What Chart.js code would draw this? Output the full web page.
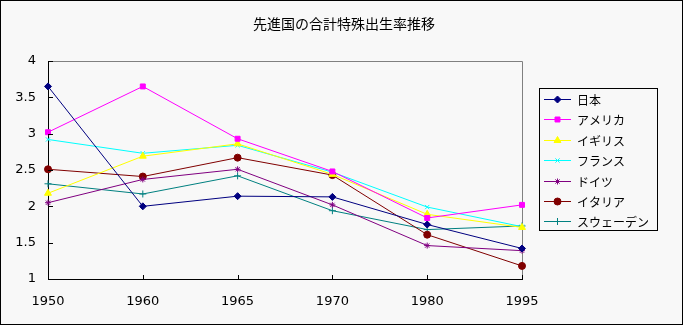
<!DOCTYPE html>
<html>
<head>
<meta charset="utf-8">
<title>先進国の合計特殊出生率推移</title>
<script src="https://cdn.jsdelivr.net/npm/chart.js@4.4.1/dist/chart.umd.min.js"></script>
<style>
  html, body { margin: 0; padding: 0; background: #f8f8f8; }
  #wrap { width: 683px; height: 325px; position: relative; }
</style>
</head>
<body>
<div id="wrap"><canvas id="chart" width="683" height="325"></canvas></div>
<script>
// 年次
var years = ['1950', '1960', '1965', '1970', '1980', '1995'];

// 国別の合計特殊出生率
var japan   = [3.65, 2.00, 2.14, 2.13, 1.75, 1.42];
var usa     = [3.02, 3.65, 2.93, 2.48, 1.84, 2.02];
var uk      = [2.18, 2.69, 2.86, 2.44, 1.89, 1.71];
var france  = [2.92, 2.73, 2.84, 2.47, 1.99, 1.72];
var germany = [2.05, 2.37, 2.51, 2.02, 1.46, 1.39];
var italy   = [2.51, 2.41, 2.67, 2.43, 1.61, 1.18];
var sweden  = [2.31, 2.17, 2.42, 1.94, 1.68, 1.73];

var yTicks = [1, 1.5, 2, 2.5, 3, 3.5, 4];

var TITLE = '先進国の合計特殊出生率推移';
var jpFont = '"Noto Sans CJK JP", "DejaVu Sans", sans-serif';
var numFont = '"DejaVu Sans", sans-serif';

function line(label, data, color, style, radius) {
  return {
    label: label,
    data: data,
    borderColor: color,
    backgroundColor: color,
    borderWidth: 1,
    tension: 0,
    pointStyle: style,
    pointRadius: radius,
    pointBorderColor: color,
    pointBackgroundColor: color,
    pointBorderWidth: 1,
    pointHoverRadius: radius
  };
}

var datasets = [
  line('日本', japan, '#000080', 'rectRot', 3.5),
  line('アメリカ', usa, '#ff00ff', 'rect', 3.5),
  line('イギリス', uk, '#ffff00', 'triangle', 4),
  line('フランス', france, '#00ffff', 'crossRot', 3),
  line('ドイツ', germany, '#800080', 'star', 3),
  line('イタリア', italy, '#800000', 'circle', 3.5),
  line('スウェーデン', sweden, '#008080', 'cross', 3.5)
];

// 枠、タイトル、内向きの目盛り、凡例
var framePlugin = {
  id: 'frame',
  beforeDraw: function(chart) {
    var ctx = chart.ctx, a = chart.chartArea;
    ctx.save();
    ctx.fillStyle = '#f8f8f8';
    ctx.fillRect(0, 0, chart.width, chart.height);
    ctx.strokeStyle = '#000';
    ctx.lineWidth = 1;
    ctx.strokeRect(0.5, 0.5, chart.width - 1, chart.height - 1);

    // plot area top / right edges in grey
    ctx.strokeStyle = '#808080';
    ctx.beginPath();
    ctx.moveTo(Math.round(a.left) + 0.5, Math.round(a.top) + 0.5);
    ctx.lineTo(Math.round(a.right) + 0.5, Math.round(a.top) + 0.5);
    ctx.lineTo(Math.round(a.right) + 0.5, Math.round(a.bottom) + 0.5);
    ctx.stroke();

    ctx.fillStyle = '#000';
    ctx.font = '14px ' + jpFont;
    ctx.textAlign = 'center';
    ctx.textBaseline = 'middle';
    ctx.fillText(TITLE, 344, 24);
    ctx.restore();
  },
  afterDatasetsDraw: function(chart) {
    var ctx = chart.ctx, a = chart.chartArea;
    var xs = chart.scales.x, ys = chart.scales.y;
    ctx.save();
    ctx.strokeStyle = '#000';
    ctx.lineWidth = 1;
    ctx.beginPath();
    xs.ticks.forEach(function(t, i) {
      var px = Math.round(xs.getPixelForTick(i)) + 0.5;
      ctx.moveTo(px, a.bottom);
      ctx.lineTo(px, a.bottom - 4);
    });
    ys.ticks.forEach(function(t, i) {
      var py = Math.round(ys.getPixelForTick(i)) + 0.5;
      ctx.moveTo(a.left, py);
      ctx.lineTo(a.left + 5, py);
    });
    ctx.stroke();

    // 凡例
    var bx = 539, by = 88, bw = 118, bh = 142;
    ctx.strokeRect(bx + 0.5, by + 0.5, bw, bh);
    ctx.font = '12px ' + jpFont;
    ctx.textAlign = 'left';
    ctx.textBaseline = 'middle';
    chart.data.datasets.forEach(function(ds, i) {
      var y = Math.round(by + 11 + i * 20.4) + 0.5;
      ctx.strokeStyle = ds.borderColor;
      ctx.fillStyle = ds.borderColor;
      ctx.beginPath();
      ctx.moveTo(544, y);
      ctx.lineTo(571, y);
      ctx.stroke();
      Chart.helpers.drawPoint(ctx, {
        pointStyle: ds.pointStyle,
        radius: ds.pointRadius,
        rotation: 0,
        borderWidth: 1
      }, 557.5, y);
      ctx.fillStyle = '#000';
      ctx.fillText(ds.label, 577, y + 1);
    });
    ctx.restore();
  }
};

new Chart(document.getElementById('chart'), {
  type: 'line',
  data: { labels: years, datasets: datasets },
  options: {
    responsive: false,
    animation: false,
    layout: { padding: { top: 61, right: 161, left: 0, bottom: 0 } },
    plugins: {
      legend: { display: false },
      title: { display: false },
      tooltip: { enabled: false }
    },
    scales: {
      x: {
        offset: false,
        afterFit: function(s) { s.height = 46; },
        grid: { display: false, drawTicks: false },
        border: { color: '#000', width: 1 },
        ticks: {
          color: '#000',
          font: { family: numFont, size: 13 },
          padding: 15,
          maxRotation: 0
        }
      },
      y: {
        min: 1,
        max: 4,
        afterFit: function(s) { s.width = 48; },
        afterBuildTicks: function(s) {
          s.ticks = yTicks.map(function(v) { return { value: v }; });
        },
        grid: { display: false, drawTicks: false },
        border: { color: '#000', width: 1 },
        ticks: {
          color: '#000',
          font: { family: numFont, size: 13 },
          padding: 12,
          callback: function(v) { return String(v); }
        }
      }
    }
  },
  plugins: [framePlugin]
});
</script>
</body>
</html>
